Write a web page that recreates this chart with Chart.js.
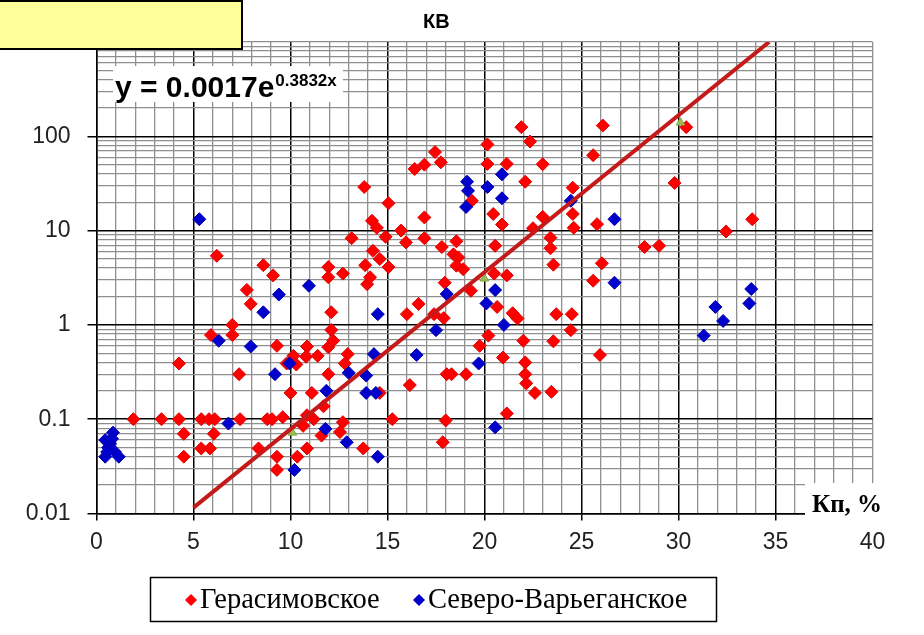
<!DOCTYPE html>
<html>
<head>
<meta charset="utf-8">
<title>КВ</title>
<script src="https://cdn.jsdelivr.net/npm/chart.js@4.4.1/dist/chart.umd.min.js"></script>
<style>
  body { margin: 0; background: #fff; }
  canvas { display: block; }
</style>
</head>
<body>
<canvas id="kvChart" width="924" height="635"></canvas>
<script>
// Герасимовское: Кп, % / КВ
const gerX = [1.9, 3.35, 4.25, 4.25, 4.5, 4.5, 5.4, 5.8, 6.1, 5.4, 5.85, 6.05, 7.4, 7.35, 7.0, 7.0, 5.9, 7.95, 7.75, 6.2,
  8.6, 9.1, 9.3, 9.8, 10.15, 10.3, 10.0, 8.8, 9.05, 9.6, 8.35, 9.3, 9.3, 10.35, 10.85, 10.65, 11.2, 11.1, 10.85, 10.8,
  11.4, 10.85, 11.95, 12.2, 12.1, 12.1, 12.95, 12.8, 11.95, 11.7, 12.7, 12.55, 11.6, 13.75, 14.6, 15.25, 16.15, 18.05, 18.0, 17.85,
  11.95, 11.95, 12.7, 13.15, 13.8, 13.85, 13.95, 14.1, 14.25, 14.6, 15.05, 14.2, 14.45, 14.9, 15.05, 15.7, 15.95, 16.0, 16.6, 16.9,
  16.9, 16.4, 16.9, 17.45, 17.75, 17.8, 17.4, 17.9, 17.95, 18.55, 18.4, 18.65, 18.55, 18.9, 19.3, 19.35, 18.3, 19.05, 19.75, 20.2,
  20.65, 21.45, 21.7, 20.95, 22.0, 22.1, 22.1, 22.15, 22.6, 23.45, 23.55, 23.7, 24.5, 24.45, 21.15, 25.95, 20.15, 20.15, 21.15, 21.9,
  22.35, 23.0, 22.1, 20.45, 20.9, 20.55, 20.5, 21.15, 22.5, 23.0, 23.4, 23.4, 23.55, 24.55, 24.55, 24.6, 25.6, 26.1, 25.8, 26.05,
  25.6, 28.25, 29.0, 29.8, 30.4, 32.45, 33.8];
const gerY = [0.1, 0.1, 0.1, 0.39, 0.07, 0.04, 0.1, 0.1, 0.1, 0.049, 0.049, 0.07, 0.1, 0.3, 1.0, 0.78, 0.78, 1.67, 2.35, 5.4,
  4.3, 3.35, 0.6, 0.39, 0.47, 0.38, 0.19, 0.1, 0.1, 0.105, 0.049, 0.04, 0.029, 0.04, 0.049, 0.085, 0.1, 0.19, 0.59, 0.46,
  0.47, 0.11, 0.58, 0.68, 0.885, 1.36, 0.49, 0.39, 0.3, 0.137, 0.093, 0.073, 0.067, 0.049, 0.19, 0.1, 0.23, 0.3, 0.097, 0.057,
  4.1, 3.2, 3.5, 8.3, 29, 4.3, 2.7, 3.2, 6.1, 5.0, 4.1, 12.7, 10.7, 8.6, 19.5, 10, 7.5, 1.3, 1.67, 13.8,
  8.3, 45, 50, 68, 53, 6.7, 1.3, 1.18, 2.8, 7.7, 5.6, 5.2, 4.25, 3.9, 2.3, 20.7, 0.3, 0.3, 0.6, 0.77,
  1.55, 1.33, 1.17, 0.45, 0.68, 0.4, 0.3, 0.24, 0.19, 0.195, 0.67, 1.3, 1.3, 0.88, 0.115, 0.48, 82, 51, 51, 125,
  88, 50.5, 33, 15, 11.6, 6.9, 3.5, 3.35, 10.6, 14, 8.4, 6.5, 4.35, 28.5, 15, 10.7, 63, 130, 11.7, 4.5,
  2.94, 6.7, 6.9, 32, 125, 9.8, 13.2];

// Северо-Варьеганское
const sevX = [0.45, 0.45, 0.6, 0.7, 0.85, 0.95, 1.15, 0.55, 0.8, 5.3, 6.3, 6.8, 7.95, 8.6, 9.4, 9.2, 9.95, 10.2, 10.95, 11.8,
  11.85, 12.9, 13.0, 13.9, 13.9, 14.4, 14.3, 14.5, 14.5, 16.5, 17.5, 18.05, 19.1, 19.15, 19.05, 20.15, 20.9, 20.9, 20.55, 20.1,
  21.0, 19.7, 20.55, 24.45, 26.7, 26.7, 31.3, 31.9, 32.3, 33.65, 33.75];
const sevY = [0.04, 0.06, 0.05, 0.055, 0.072, 0.045, 0.04, 0.045, 0.062, 13.2, 0.68, 0.09, 0.59, 1.36, 2.1, 0.3, 0.39, 0.029, 2.6, 0.079,
  0.2, 0.057, 0.31, 0.29, 0.19, 0.19, 0.49, 1.3, 0.04, 0.48, 0.88, 2.13, 33, 26.4, 17.8, 29, 39.5, 22, 2.34, 1.69,
  1.0, 0.39, 0.082, 20.7, 13.2, 2.8, 0.77, 1.55, 1.1, 1.69, 2.4];

// small markers sitting under the trend line
const markX = [10.1, 20.0, 30.1];
const markY = [0.072, 3.1, 140];

// trend: y = 0.0017e^(0.3832x)
const trendA = 0.0017;
const trendB = 0.3832;
const trendX = [5, 34.67];

const xTickLabels = [0, 5, 10, 15, 20, 25, 30, 35, 40];
const yTickLabels = [0.01, 0.1, 1, 10, 100];

const SANS = '"Liberation Sans", Arial, sans-serif';
const SERIF = '"Liberation Serif", "Times New Roman", serif';
const RED = '#ff0000';
const BLUE = '#0000cc';
const MINOR = '#8f8f8f';

function toPoints(xs, ys) {
  return xs.map((x, i) => ({ x: x, y: ys[i] }));
}

const trendPoints = trendX.map(x => ({ x: x, y: trendA * Math.exp(trendB * x) }));

// grid positions: every unit on x, 1..9 per decade on y
const xGrid = [];
for (let v = 0; v <= 40; v++) xGrid.push(v);
const yGrid = [];
yTickLabels.forEach(d => {
  for (let k = 1; k <= 9; k++) yGrid.push(Number((k * d).toPrecision(1)));
});
yGrid.push(1000);

const isXMajor = v => xTickLabels.includes(v) && v !== 40;
const isYMajor = v => yTickLabels.includes(v);

function diamond(ctx, x, y, r, color) {
  ctx.beginPath();
  ctx.moveTo(x, y - r);
  ctx.lineTo(x + r, y);
  ctx.lineTo(x, y + r);
  ctx.lineTo(x - r, y);
  ctx.closePath();
  ctx.fillStyle = color;
  ctx.fill();
}

const overlays = {
  id: 'overlays',
  afterDraw(chart) {
    const ctx = chart.ctx;
    ctx.save();
    ctx.textBaseline = 'alphabetic';
    ctx.textAlign = 'left';

    // trend equation
    ctx.fillStyle = '#fff';
    ctx.fillRect(113, 66, 230, 36);
    ctx.fillStyle = '#000';
    ctx.font = 'bold 30px ' + SANS;
    const eq = 'y = ' + trendA + 'e';
    ctx.fillText(eq, 115, 97);
    const w = ctx.measureText(eq).width;
    ctx.font = 'bold 17px ' + SANS;
    ctx.fillText(trendB + 'x', 115 + w + 1, 86);

    // x axis name
    ctx.fillStyle = '#fff';
    ctx.fillRect(805, 483, 119, 36);
    ctx.fillStyle = '#000';
    ctx.font = 'bold 25px ' + SERIF;
    ctx.fillText('Кп, %', 812, 512);

    // yellow note box
    ctx.fillStyle = '#ffff99';
    ctx.fillRect(0, 0, 242, 49);
    ctx.strokeStyle = '#000';
    ctx.lineWidth = 2;
    ctx.beginPath();
    ctx.moveTo(0, 1);
    ctx.lineTo(242, 1);
    ctx.lineTo(242, 49);
    ctx.lineTo(0, 49);
    ctx.stroke();

    // legend
    ctx.lineWidth = 1.5;
    ctx.strokeRect(150.5, 577.5, 566, 44);
    ctx.font = '28.5px ' + SERIF;
    ctx.textBaseline = 'middle';
    diamond(ctx, 191, 600, 6, RED);
    ctx.fillStyle = '#000';
    ctx.fillText('Герасимовское', 200, 601);
    diamond(ctx, 419, 600, 6, BLUE);
    ctx.fillStyle = '#000';
    ctx.fillText('Северо-Варьеганское', 428, 601);
    ctx.restore();
  }
};

new Chart(document.getElementById('kvChart'), {
  type: 'scatter',
  data: {
    datasets: [
      {
        label: 'Герасимовское',
        data: toPoints(gerX, gerY),
        pointStyle: 'rectRot',
        pointRadius: 6.5,
        pointBackgroundColor: RED,
        pointBorderColor: '#e00000',
        pointBorderWidth: 1,
        order: 3
      },
      {
        label: 'Северо-Варьеганское',
        data: toPoints(sevX, sevY),
        pointStyle: 'rectRot',
        pointRadius: 6.5,
        pointBackgroundColor: BLUE,
        pointBorderColor: '#0000b0',
        pointBorderWidth: 1,
        order: 2
      },
      {
        label: 'marks',
        data: toPoints(markX, markY),
        pointStyle: 'triangle',
        pointRadius: 5,
        pointBackgroundColor: '#9bbb59',
        pointBorderColor: '#8aa84a',
        order: 1
      },
      {
        label: 'trend',
        data: trendPoints,
        showLine: true,
        borderColor: '#c41a1a',
        borderWidth: 4,
        pointRadius: 0,
        order: 0
      }
    ]
  },
  options: {
    responsive: false,
    animation: false,
    events: [],
    layout: { padding: { left: 0, right: 51.5, top: 0, bottom: 0 } },
    plugins: {
      legend: { display: false },
      tooltip: { enabled: false },
      title: {
        display: true,
        text: 'КВ',
        color: '#000',
        font: { family: SANS, size: 20, weight: 'bold' },
        padding: { top: 10, bottom: 8 }
      }
    },
    scales: {
      x: {
        type: 'linear',
        min: 0,
        max: 40,
        afterBuildTicks: axis => { axis.ticks = xGrid.map(v => ({ value: v })); },
        afterFit: axis => { axis.height = 121.5; },
        ticks: {
          autoSkip: false,
          maxRotation: 0,
          padding: 8,
          color: '#222',
          font: { family: SANS, size: 23 },
          callback: v => (xTickLabels.includes(v) ? String(v) : '')
        },
        grid: {
          color: c => (isXMajor(c.tick.value) ? '#000' : MINOR),
          lineWidth: c => (isXMajor(c.tick.value) ? 1.5 : 1.3),
          tickColor: c => (isXMajor(c.tick.value) ? '#000' : 'rgba(0,0,0,0)'),
          tickLength: 7
        },
        border: { color: '#000', width: 1.5 }
      },
      y: {
        type: 'logarithmic',
        min: 0.01,
        max: 1000,
        afterBuildTicks: axis => { axis.ticks = yGrid.map(v => ({ value: v })); },
        afterFit: axis => { axis.width = 96.5; },
        ticks: {
          autoSkip: false,
          padding: 17,
          color: '#222',
          font: { family: SANS, size: 23 },
          callback: v => (yTickLabels.includes(v) ? String(v) : '')
        },
        grid: {
          color: c => (isYMajor(c.tick.value) ? '#000' : MINOR),
          lineWidth: c => (isYMajor(c.tick.value) ? 1.5 : 1.3),
          tickColor: c => (isYMajor(c.tick.value) ? '#000' : 'rgba(0,0,0,0)'),
          tickLength: 9
        },
        border: { color: '#000', width: 1.5 }
      }
    }
  },
  plugins: [overlays]
});
</script>
</body>
</html>
